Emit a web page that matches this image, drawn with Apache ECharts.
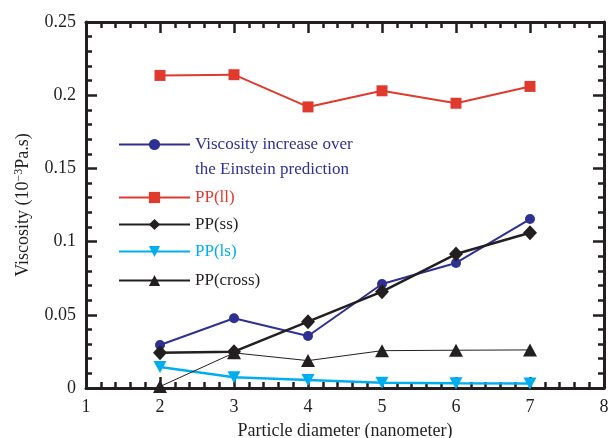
<!DOCTYPE html>
<html>
<head>
<meta charset="utf-8">
<script src="https://cdn.jsdelivr.net/npm/echarts@6/dist/echarts.min.js"></script>
<style>
  html, body { margin: 0; padding: 0; background: #fff; }
  #chart { width: 610px; height: 438px; }
</style>
</head>
<body>
<div id="chart"></div>
<script>
// particle diameter (nanometer)
const diameters = [2, 3, 4, 5, 6, 7]

// viscosity values (10^-3 Pa.s)
const einsteinIncrease = [0.0294, 0.0476, 0.0355, 0.071, 0.0854, 0.1154]
const ppLL = [0.2135, 0.214, 0.192, 0.203, 0.1945, 0.206]
const ppSS = [0.0241, 0.0248, 0.0453, 0.0658, 0.0915, 0.106]
const ppLS = [0.0143, 0.0073, 0.0055, 0.0036, 0.0032, 0.003]
const ppCross = [0.001, 0.024, 0.0187, 0.0255, 0.0258, 0.026]

const seriesNames = ['Viscosity increase over the Einstein prediction', 'PP(ll)', 'PP(ss)', 'PP(ls)', 'PP(cross)']

const ink = '#231f20'
const font = 'Liberation Serif'

const chart = echarts.init(document.getElementById('chart'))

function pairs (vals) {
  return vals.map((v, i) => [diameters[i], v])
}

// one legend per row so the rows can sit where they do in the figure
function legendRow (name, top, color, extra) {
  return Object.assign({
    data: [name],
    orient: 'vertical',
    left: 118,
    top: top,
    padding: 0,
    itemWidth: 71,
    itemHeight: 14,
    selectedMode: false,
    textStyle: { color: color, fontFamily: font, fontSize: 17 }
  }, extra || {})
}

const sideAxis = {
  axisLine: { show: true, onZero: false, lineStyle: { color: ink, width: 3 } },
  axisTick: { show: true, inside: true, length: 11, lineStyle: { color: ink, width: 2.5 } },
  minorTick: { show: true, splitNumber: 5, length: 6, lineStyle: { color: ink, width: 2.5 } },
  splitLine: { show: false },
  axisLabel: { show: false }
}

const xBase = { type: 'value', min: 1, max: 8, interval: 1 }
const yBase = { type: 'value', min: 0, max: 0.25, interval: 0.05 }

chart.setOption({
  animation: false,
  grid: { left: 86, right: 6, top: 22, bottom: 50, outerBoundsMode: 'none' },
  legend: [
    // blank first line keeps the icon level with the first text line
    legendRow(seriesNames[0], 107, '#2e3192', {
      formatter: () => ' \nViscosity increase over\nthe Einstein prediction',
      textStyle: { color: '#2e3192', fontFamily: font, fontSize: 17, lineHeight: 25 }
    }),
    legendRow(seriesNames[1], 189, '#e03a2f'),
    legendRow(seriesNames[2], 216, ink),
    legendRow(seriesNames[3], 243, '#00aeef'),
    legendRow(seriesNames[4], 272, ink)
  ],
  xAxis: [
    Object.assign({}, xBase, sideAxis, {
      position: 'bottom',
      name: 'Particle diameter (nanometer)',
      nameLocation: 'middle',
      nameGap: 34,
      nameTextStyle: { color: ink, fontFamily: font, fontSize: 18 },
      axisLabel: { show: true, color: ink, fontFamily: font, fontSize: 18, margin: 10 }
    }),
    Object.assign({}, xBase, sideAxis, { position: 'top' })
  ],
  yAxis: [
    Object.assign({}, yBase, sideAxis, {
      position: 'left',
      name: 'Viscosity (10{sup|−3}Pa.s)',
      nameLocation: 'middle',
      nameGap: 53,
      nameTextStyle: {
        color: ink, fontFamily: font, fontSize: 18,
        rich: { sup: { fontFamily: font, fontSize: 12, color: ink, verticalAlign: 'top', padding: [0, 0, 8, 0] } }
      },
      axisLabel: { show: true, color: ink, fontFamily: font, fontSize: 18, margin: 10 }
    }),
    Object.assign({}, yBase, sideAxis, { position: 'right' })
  ],
  series: [
    {
      name: seriesNames[0], type: 'line', data: pairs(einsteinIncrease),
      symbol: 'circle', symbolSize: 10,
      lineStyle: { color: '#2e3192', width: 2 }, itemStyle: { color: '#2e3192' }
    },
    {
      name: seriesNames[1], type: 'line', data: pairs(ppLL),
      symbol: 'rect', symbolSize: 11,
      lineStyle: { color: '#e03a2f', width: 2 }, itemStyle: { color: '#e03a2f' }
    },
    {
      name: seriesNames[2], type: 'line', data: pairs(ppSS),
      symbol: 'diamond', symbolSize: [14, 15],
      lineStyle: { color: ink, width: 2.5 }, itemStyle: { color: ink }
    },
    {
      name: seriesNames[3], type: 'line', data: pairs(ppLS),
      symbol: 'triangle', symbolRotate: 180, symbolSize: [13, 12],
      lineStyle: { color: '#00aeef', width: 2.5 }, itemStyle: { color: '#00aeef' }
    },
    {
      name: seriesNames[4], type: 'line', data: pairs(ppCross),
      symbol: 'triangle', symbolSize: [14, 13],
      lineStyle: { color: ink, width: 1 }, itemStyle: { color: ink }
    }
  ]
})
</script>
</body>
</html>
